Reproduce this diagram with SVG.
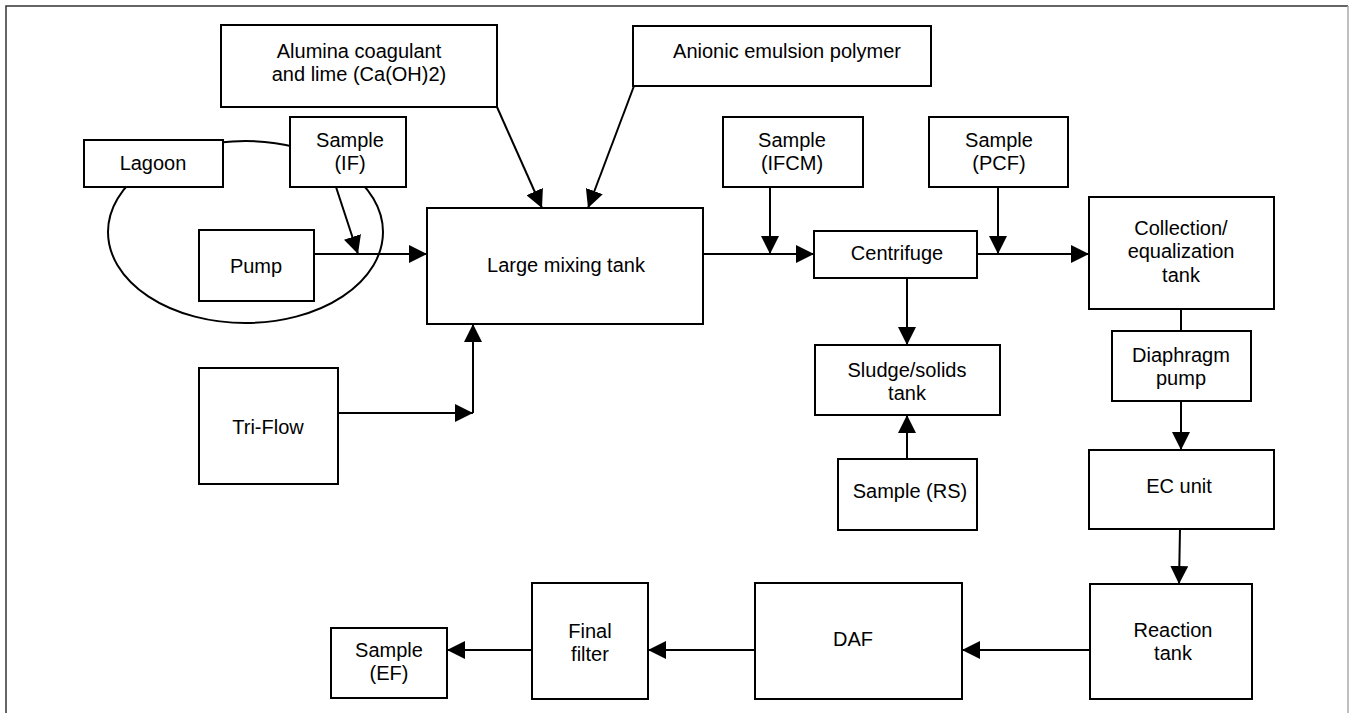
<svg xmlns="http://www.w3.org/2000/svg" width="1349" height="713" viewBox="0 0 1349 713">
<style>
  .box { fill: #fff; stroke: #000; stroke-width: 2; }
  .t { font-family: "Liberation Sans", Arial, sans-serif; font-size: 20px; fill: #000; text-anchor: middle; }
  .c { fill: none; stroke: #000; stroke-width: 2; }
  .a { marker-end: url(#arr); }
</style>
<defs>
  <marker id="arr" markerUnits="userSpaceOnUse" markerWidth="18" markerHeight="18" refX="18" refY="9" orient="auto">
    <path d="M0,0 L18,9 L0,18 Z" fill="#000"/>
  </marker>
</defs>
<rect x="0" y="0" width="1349" height="713" fill="#fff"/>
<g id="frame">
  <path d="M6,713 V6 H1348" fill="none" stroke="#333" stroke-width="1.5"/>
  <path d="M1348,6 V713" fill="none" stroke="#aaa" stroke-width="1.5"/>
</g>
<g id="connectors">
  <ellipse cx="245.5" cy="232" rx="137.5" ry="91" class="c" stroke-width="1.6"/>
  <path class="c a" d="M336,187 L358,254"/>
  <path class="c a" d="M314,254 H427"/>
  <path class="c a" d="M497,107 L542,208"/>
  <path class="c a" d="M634,86 L588,208"/>
  <path class="c a" d="M338,413 H473"/>
  <path class="c a" d="M473,413 V324"/>
  <path class="c a" d="M703,254 H814"/>
  <path class="c a" d="M770,187 V254"/>
  <path class="c a" d="M977,254 H1089"/>
  <path class="c a" d="M998,187 V254"/>
  <path class="c a" d="M907,278 V345"/>
  <path class="c a" d="M907,459 V415"/>
  <path class="c" d="M1181,309 V331"/>
  <path class="c a" d="M1181,401 V450"/>
  <path class="c a" d="M1180,529 L1179,584"/>
  <path class="c a" d="M1090,650 H962"/>
  <path class="c a" d="M755,650 H648"/>
  <path class="c a" d="M532,650 H447"/>
</g>
<g id="alumina">
  <rect class="box" x="221" y="25" width="276" height="82"/>
  <text class="t" x="359" y="58">Alumina coagulant</text>
  <text class="t" x="359" y="81">and lime (Ca(OH)2)</text>
</g>
<g id="anionic">
  <rect class="box" x="633" y="26" width="298" height="60"/>
  <text class="t" x="787" y="58">Anionic emulsion polymer</text>
</g>
<g id="lagoon">
  <rect class="box" x="84" y="140" width="139" height="47"/>
  <text class="t" x="153" y="170">Lagoon</text>
</g>
<g id="sample-if">
  <rect class="box" x="290" y="117" width="116" height="70"/>
  <text class="t" x="350" y="147">Sample</text>
  <text class="t" x="350" y="170">(IF)</text>
</g>
<g id="pump">
  <rect class="box" x="199" y="230" width="115" height="71"/>
  <text class="t" x="256" y="273">Pump</text>
</g>
<g id="mixing-tank">
  <rect class="box" x="427" y="208" width="276" height="116"/>
  <text class="t" x="566" y="272">Large mixing tank</text>
</g>
<g id="tri-flow">
  <rect class="box" x="199" y="368" width="139" height="116"/>
  <text class="t" x="268" y="434">Tri-Flow</text>
</g>
<g id="sample-ifcm">
  <rect class="box" x="723" y="117" width="140" height="70"/>
  <text class="t" x="792" y="147">Sample</text>
  <text class="t" x="792" y="170">(IFCM)</text>
</g>
<g id="centrifuge">
  <rect class="box" x="814" y="231" width="163" height="47"/>
  <text class="t" x="897" y="260">Centrifuge</text>
</g>
<g id="sample-pcf">
  <rect class="box" x="929" y="117" width="139" height="70"/>
  <text class="t" x="999" y="147">Sample</text>
  <text class="t" x="999" y="170">(PCF)</text>
</g>
<g id="collection">
  <rect class="box" x="1089" y="197" width="185" height="112"/>
  <text class="t" x="1181" y="235">Collection/</text>
  <text class="t" x="1181" y="258">equalization</text>
  <text class="t" x="1181" y="282">tank</text>
</g>
<g id="sludge">
  <rect class="box" x="815" y="345" width="185" height="70"/>
  <text class="t" x="907" y="377">Sludge/solids</text>
  <text class="t" x="907" y="400">tank</text>
</g>
<g id="sample-rs">
  <rect class="box" x="838" y="459" width="139" height="71"/>
  <text class="t" x="910" y="498">Sample (RS)</text>
</g>
<g id="diaphragm">
  <rect class="box" x="1112" y="331" width="139" height="70"/>
  <text class="t" x="1181" y="362">Diaphragm</text>
  <text class="t" x="1181" y="385">pump</text>
</g>
<g id="ec-unit">
  <rect class="box" x="1089" y="450" width="185" height="79"/>
  <text class="t" x="1179" y="493">EC unit</text>
</g>
<g id="reaction">
  <rect class="box" x="1090" y="584" width="162" height="115"/>
  <text class="t" x="1173" y="637">Reaction</text>
  <text class="t" x="1173" y="660">tank</text>
</g>
<g id="daf">
  <rect class="box" x="755" y="583" width="207" height="116"/>
  <text class="t" x="853" y="646">DAF</text>
</g>
<g id="final-filter">
  <rect class="box" x="532" y="583" width="116" height="116"/>
  <text class="t" x="590" y="638">Final</text>
  <text class="t" x="590" y="661">filter</text>
</g>
<g id="sample-ef">
  <rect class="box" x="331" y="628" width="116" height="70"/>
  <text class="t" x="389" y="657">Sample</text>
  <text class="t" x="389" y="680">(EF)</text>
</g>
</svg>
